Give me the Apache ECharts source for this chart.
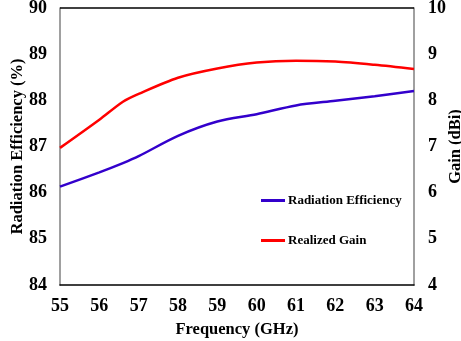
<!DOCTYPE html>
<html>
<head>
<meta charset="utf-8">
<script src="https://cdn.jsdelivr.net/npm/echarts@6/dist/echarts.min.js"></script>
<style>
    html, body { margin: 0; padding: 0; background: #fff; }
    #chart { width: 461px; height: 341px; }
</style>
</head>
<body>
<div id="chart"></div>
<script>
// frequency points (GHz)
const freq = [55, 56, 56.6, 57, 58, 59, 60, 61, 62, 63, 64];
// radiation efficiency (%), left axis
const efficiency = [86.13, 86.44, 86.64, 86.79, 87.23, 87.54, 87.70, 87.89, 87.99, 88.09, 88.20];
// realized gain (dBi), right axis
const gain = [6.97, 7.58, 7.97, 8.14, 8.49, 8.69, 8.82, 8.86, 8.84, 8.77, 8.68];

const font = 'Liberation Serif';

const chart = echarts.init(document.getElementById('chart'));

const option = {
    animation: false,
    textStyle: { fontFamily: font, fontWeight: 'bold', color: '#000' },
    grid: { left: 60, top: 8, width: 354, height: 277, containLabel: false, outerBoundsMode: 'none' },
    legend: {
        left: 256,
        top: 189,
        orient: 'vertical',
        itemGap: 27,
        itemWidth: 24,
        itemHeight: 3,
        icon: 'rect',
        data: ['Radiation Efficiency', 'Realized Gain'],
        textStyle: { fontFamily: font, fontWeight: 'bold', fontSize: 13, color: '#000', padding: [0, 0, 0, -2] },
    },
    xAxis: {
        type: 'value',
        min: 55,
        max: 64,
        interval: 1,
        name: 'Frequency (GHz)',
        nameLocation: 'middle',
        nameGap: 36,
        nameMoveOverlap: false,
        nameTextStyle: { fontFamily: font, fontWeight: 'bold', fontSize: 16.5, color: '#000' },
        axisLine: { show: true, lineStyle: { color: '#000', width: 1.5 } },
        axisTick: { show: false },
        splitLine: { show: false },
        axisLabel: { fontFamily: font, fontWeight: 'bold', fontSize: 18, color: '#000', margin: 12 },
    },
    yAxis: [
        {
            type: 'value',
            min: 84,
            max: 90,
            interval: 1,
            name: 'Radiation Efficiency (%)',
            nameLocation: 'middle',
            nameGap: 34,
            nameMoveOverlap: false,
            nameTextStyle: { fontFamily: font, fontWeight: 'bold', fontSize: 16.5, color: '#000' },
            axisLine: { show: true, lineStyle: { color: '#808080', width: 1.5 } },
            axisTick: { show: false },
            splitLine: { show: false },
            axisLabel: { fontFamily: font, fontWeight: 'bold', fontSize: 18, color: '#000', margin: 13 },
        },
        {
            type: 'value',
            min: 4,
            max: 10,
            interval: 1,
            name: 'Gain (dBi)',
            nameLocation: 'middle',
            nameGap: 33,
            nameMoveOverlap: false,
            nameTextStyle: { fontFamily: font, fontWeight: 'bold', fontSize: 16.5, color: '#000' },
            axisLine: { show: true, lineStyle: { color: '#808080', width: 1.5 } },
            axisTick: { show: false },
            splitLine: { show: false },
            axisLabel: { fontFamily: font, fontWeight: 'bold', fontSize: 18, color: '#000', margin: 14 },
        },
    ],
    series: [
        {
            name: 'Radiation Efficiency',
            type: 'line',
            yAxisIndex: 0,
            smooth: 0.3,
            showSymbol: false,
            color: '#3300cc',
            lineStyle: { width: 2.5 },
            data: freq.map((f, i) => [f, efficiency[i]]),
        },
        {
            name: 'Realized Gain',
            type: 'line',
            yAxisIndex: 1,
            smooth: 0.3,
            showSymbol: false,
            color: '#ff0000',
            lineStyle: { width: 2.5 },
            data: freq.map((f, i) => [f, gain[i]]),
        },
        {
            // top border of the frame
            type: 'line',
            yAxisIndex: 0,
            silent: true,
            showSymbol: false,
            data: [],
            markLine: {
                silent: true,
                symbol: 'none',
                label: { show: false },
                lineStyle: { color: '#000', width: 1.5, type: 'solid' },
                data: [{ yAxis: 90 }],
            },
        },
    ],
};

chart.setOption(option);
</script>
</body>
</html>
